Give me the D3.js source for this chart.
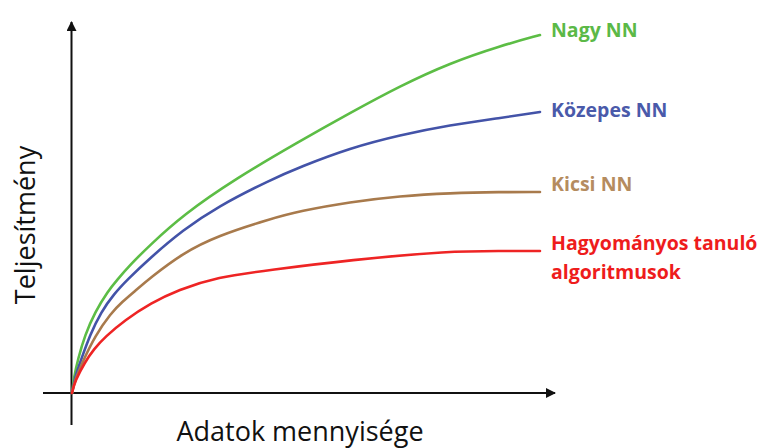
<!DOCTYPE html>
<html>
<head>
<meta charset="utf-8">
<script src="https://cdn.jsdelivr.net/npm/d3@7"></script>
<style>
  html, body { margin: 0; padding: 0; background: #fff; }
  svg { display: block; }
  text { font-family: "Open Sans", "DejaVu Sans", sans-serif; }
</style>
</head>
<body>
<div id="chart"></div>
<script>
// performance vs amount of data — arbitrary units
const nagyNN = [[0, 0], [2, 16], [6, 34], [13, 58], [23, 81], [36, 102], [45, 113], [58, 128], [78, 148],
  [111, 178], [163, 214], [228, 252], [278, 280], [328, 307], [378, 330], [428, 347], [468, 358]]
const kozepesNN = [[0, 0], [3, 16], [9, 33], [18, 58], [29, 81], [42, 99], [55, 113], [78, 135], [111, 163],
  [145, 186], [198, 213], [228, 226], [278, 245], [328, 258], [378, 268], [428, 275], [468, 281]]
const kicsiNN = [[0, 0], [3, 13], [11, 32], [23, 57], [39, 80], [50, 91], [63, 102], [78, 115], [111, 140],
  [145, 157], [198, 174], [228, 182], [278, 191], [328, 197], [378, 200], [428, 201], [468, 201]]
const hagyomanyos = [[0, 0], [3, 12], [13, 31], [22, 44], [33, 56], [53, 73], [79, 90], [106, 103], [145, 116],
  [198, 123], [278, 133], [378, 142], [428, 142], [468, 142]]

const seriesNames = ['Nagy NN', 'Közepes NN', 'Kicsi NN', ['Hagyományos tanuló', 'algoritmusok']]
const seriesColors = ['#5cbd45', '#4353a8', '#a87a4c', '#ee2424']
const labelColors = ['#5bb947', '#4a5aaa', '#b58c5f', '#ee1c1c']
const xLabel = 'Adatok mennyisége'
const yLabel = 'Teljesítmény'

const W = 763, H = 448
const svg = d3.select('#chart').append('svg').attr('width', W).attr('height', H)

const x = d3.scaleLinear().domain([0, 470]).range([72, 542])
const y = d3.scaleLinear().domain([0, 360]).range([393, 33])

// arrow heads
const defs = svg.append('defs')
defs.append('marker')
  .attr('id', 'arrow')
  .attr('viewBox', '0 -5 10 10')
  .attr('refX', 9).attr('refY', 0)
  .attr('markerWidth', 5).attr('markerHeight', 5)
  .attr('markerUnits', 'strokeWidth')
  .attr('orient', 'auto')
  .append('path').attr('d', 'M0,-5L10,0L0,5Z').attr('fill', '#111')

const axes = svg.append('g').attr('stroke', '#111').attr('stroke-width', 2)
axes.append('line')
  .attr('x1', x(-29)).attr('y1', y(0))
  .attr('x2', x(483)).attr('y2', y(0))
  .attr('marker-end', 'url(#arrow)')
axes.append('line')
  .attr('x1', x(0) - 0.5).attr('y1', y(-32))
  .attr('x2', x(0) - 0.5).attr('y2', y(371))
  .attr('marker-end', 'url(#arrow)')

const line = d3.line()
  .x(d => x(d[0]))
  .y(d => y(d[1]))
  .curve(d3.curveBasis)

const allSeries = [nagyNN, kozepesNN, kicsiNN, hagyomanyos]

svg.append('g').selectAll('path')
  .data(allSeries).join('path')
  .attr('d', line)
  .attr('fill', 'none')
  .attr('stroke', (d, i) => seriesColors[i])
  .attr('stroke-width', 2.6)
  .attr('stroke-linecap', 'round')

// labels at the right end of each curve
const labelBaselines = [37, 117, 191, 250]
allSeries.forEach((s, i) => {
  const names = [].concat(seriesNames[i])
  const lx = x(s[s.length - 1][0]) + 11
  const t = svg.append('text')
    .attr('x', lx)
    .attr('y', labelBaselines[i])
    .attr('fill', labelColors[i])
    .attr('font-size', 19.5)
    .attr('font-weight', 700)
  names.forEach((n, k) => {
    t.append('tspan')
      .attr('x', lx)
      .attr('dy', k === 0 ? 0 : 29)
      .text(n)
  })
})

svg.append('text')
  .attr('x', 300).attr('y', 441)
  .attr('text-anchor', 'middle')
  .attr('font-size', 27)
  .attr('fill', '#111')
  .text(xLabel)

svg.append('text')
  .attr('transform', 'translate(35,225) rotate(-90)')
  .attr('text-anchor', 'middle')
  .attr('font-size', 27)
  .attr('fill', '#111')
  .text(yLabel)
</script>
</body>
</html>
